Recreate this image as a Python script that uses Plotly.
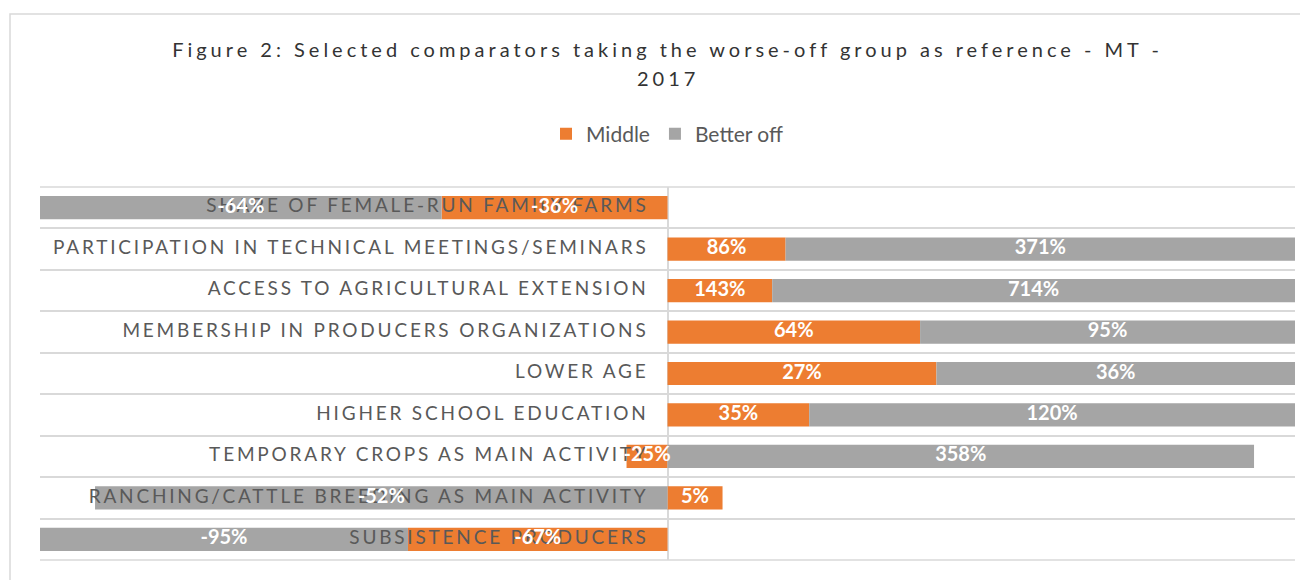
import plotly.graph_objects as go

categories = [
    "SHARE OF FEMALE-RUN FAMILY FARMS",
    "PARTICIPATION IN TECHNICAL MEETINGS/SEMINARS",
    "ACCESS TO AGRICULTURAL EXTENSION",
    "MEMBERSHIP IN PRODUCERS ORGANIZATIONS",
    "LOWER AGE",
    "HIGHER SCHOOL EDUCATION",
    "TEMPORARY CROPS AS MAIN ACTIVITY",
    "RANCHING/CATTLE BREEDING AS MAIN ACTIVITY",
    "SUBSISTENCE PRODUCERS",
]
middle = [-36, 86, 143, 64, 27, 35, -25, 5, -67]
better_off = [-64, 371, 714, 95, 36, 120, 358, -52, -95]

title_line1 = "Figure 2: Selected comparators taking the worse-off group as reference - MT -"
title_line2 = "2017"

# 100% stacked: each value as a share of the row's absolute total
totals = [abs(m) + abs(b) for m, b in zip(middle, better_off)]
middle_share = [m / t for m, t in zip(middle, totals)]
better_share = [b / t for b, t in zip(better_off, totals)]

# centres of the stacked segments (relative stacking: signs stack separately)
middle_mid = [m / 2 for m in middle_share]
better_mid = [
    (m if (m >= 0) == (b >= 0) else 0) + b / 2
    for m, b in zip(middle_share, better_share)
]

ORANGE = "#ED7D31"
GRAY = "#A5A5A5"
FONT = "Lato"

W, H = 1300, 572
L, R, T, B = 32, 13, 179, 20
PH = H - T - B
PW = W - L - R

label_font = dict(family=FONT, size=20, color="white", weight="bold")

fig = go.Figure()
fig.add_bar(
    y=categories, x=middle_share, orientation="h", name="Middle",
    marker=dict(color=ORANGE, line=dict(width=0)), hoverinfo="skip",
)
fig.add_bar(
    y=categories, x=better_share, orientation="h", name="Better off",
    marker=dict(color=GRAY, line=dict(width=0)), hoverinfo="skip",
)

# category labels next to the zero axis (below the data labels, as in Excel)
fig.add_scatter(
    x=[0] * len(categories), y=categories, mode="markers+text",
    marker=dict(size=28.8, color="rgba(0,0,0,0)"),
    text=[f'<span style="letter-spacing:2.8px">{c}</span>' for c in categories],
    textposition="middle left", cliponaxis=False,
    textfont=dict(family=FONT, size=19, color="#595959"),
    showlegend=False, hoverinfo="skip",
)

# data labels
fig.add_scatter(
    x=middle_mid + better_mid, y=categories + categories, mode="text",
    text=[f"{v}%" for v in middle] + [f"{v}%" for v in better_off],
    textposition="middle center", cliponaxis=False,
    textfont=label_font, showlegend=False, hoverinfo="skip",
)

ls = "letter-spacing:4px"
fig.add_annotation(
    x=0.5, xref="paper", y=1 + (T - 70) / PH, yref="paper",
    xanchor="center", yanchor="middle", showarrow=False,
    text=f'<span style="{ls}">{title_line2}</span>',
    font=dict(family=FONT, size=20, color="#333333"),
)

n = len(categories)
fig.update_layout(
    width=W, height=H,
    margin=dict(l=L, r=R, t=T, b=B),
    paper_bgcolor="white", plot_bgcolor="white",
    barmode="relative", bargap=0.44,
    title=dict(
        text=f'<span style="{ls}">{title_line1}</span>',
        x=0.5, xref="paper", xanchor="center",
        y=1 - 42 / H, yref="container", yanchor="middle",
        font=dict(family=FONT, size=20, color="#333333"),
    ),
    legend=dict(
        orientation="h", x=0.5, xanchor="center",
        y=1 + (T - 126) / PH, yanchor="middle",
        font=dict(family=FONT, size=21, color="#595959"),
        itemwidth=30, traceorder="normal",
    ),
    xaxis=dict(
        range=[-1, 1], autorange=False, showgrid=False, showticklabels=False,
        ticks="", zeroline=True, zerolinecolor="#d9d9d9", zerolinewidth=1.5,
        fixedrange=True,
    ),
    yaxis=dict(
        type="category", categoryorder="array", categoryarray=categories,
        range=[n - 0.5, -0.5], autorange=False, tickson="boundaries",
        showgrid=True, gridcolor="#d9d9d9", gridwidth=1.5,
        showticklabels=False, ticks="", zeroline=False,
        fixedrange=True,
    ),
    shapes=[
        dict(
            type="rect", xref="paper", yref="paper",
            x0=(2 - L) / PW, x1=1.2, y0=-0.5, y1=1 + (T - 6) / PH,
            line=dict(color="#d9d9d9", width=1.5), fillcolor="rgba(0,0,0,0)",
            layer="below",
        ),
        dict(
            type="line", xref="paper", yref="paper", x0=0, x1=1, y0=1, y1=1,
            line=dict(color="#d9d9d9", width=1.5), layer="below",
        ),
        dict(
            type="line", xref="paper", yref="paper", x0=0, x1=1, y0=0, y1=0,
            line=dict(color="#d9d9d9", width=1.5), layer="below",
        ),
    ],
    showlegend=True,
)

fig.write_html("out.html")
